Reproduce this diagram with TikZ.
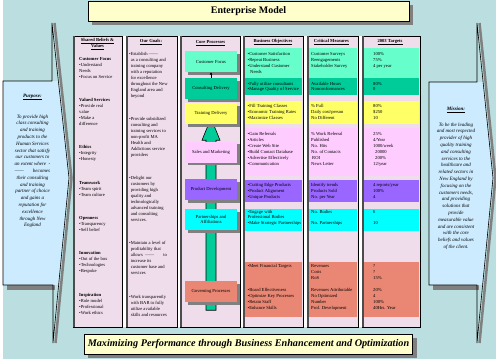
\documentclass[tikz,border=0pt]{standalone}
\usepackage{fontspec}
\setmainfont{Liberation Serif}
\usetikzlibrary{arrows.meta,shadows}
\definecolor{bgteal}{HTML}{BBDFE0}
\definecolor{colpink}{HTML}{F0DDEC}
\definecolor{callblue}{HTML}{CCEBFF}
\definecolor{titleyel}{HTML}{FFFFCC}
\definecolor{cfaqua}{HTML}{66FFCC}
\definecolor{cdgreen}{HTML}{00CC99}
\definecolor{tdyellow}{HTML}{FFFF66}
\definecolor{smpink}{HTML}{FFCCFF}
\definecolor{pdpurple}{HTML}{9966FF}
\definecolor{pacyan}{HTML}{00FFFF}
\definecolor{gpsalmon}{HTML}{EA8774}
\pgfdeclarelayer{back}
\pgfdeclarelayer{middle}
\pgfsetlayers{back,middle,main}
\newcommand{\goal}[1]{•\begin{tabular}[t]{@{}l@{}}#1\end{tabular}}
\tikzset{
  titlebox/.style={draw=black, fill=titleyel, font=\fontsize{10}{11}\selectfont\bfseries,
    drop shadow={shadow xshift=4pt, shadow yshift=-3.5pt, fill=gray, opacity=1}},
  procbox/.style={minimum width=52, minimum height=21, inner sep=1pt, align=center,
    font=\fontsize{4.6}{5.6}\selectfont,
    drop shadow={shadow xshift=2.5pt, shadow yshift=-2.5pt, fill=gray, opacity=1}},
  txt/.style={anchor=north west, inner sep=0pt, align=left, font=\fontsize{4.6}{6}\selectfont},
  head/.style={inner sep=0pt, align=center, font=\fontsize{4.6}{6}\selectfont\bfseries},
  calltxt/.style={anchor=north, inner sep=0pt, align=center, font=\fontsize{5}{6.8}\selectfont\itshape},
  callshade/.style={gray, line width=2.5pt}
}
\begin{document}
\begin{tikzpicture}[x=1pt, y=-1pt]
\useasboundingbox (0,0) rectangle (496,359);
\begin{pgfonlayer}{back}
\fill[bgteal] (3,0) rectangle (496,359);
% purpose callout
\fill[gray] (7,285) rectangle (55,289.5);
\draw[callshade] (54.5,23) -- (71.5,178) -- (55.5,343);
\fill[callblue] (3,81) -- (58.4,81) -- (69,178) -- (58.6,285) -- (3,285) -- cycle;
\draw[black, line width=0.6pt] (3,81) -- (52,81) -- (52,23) -- (69,178) -- (53,343) -- (53,285) -- (3,285) -- cycle;
% mission callout
\fill[gray] (433,285) rectangle (479,289.5);
\draw[callshade] (479.5,23) -- (495.5,178) -- (479.5,343);
\fill[callblue] (429,82) -- (483.1,82) -- (493,178) -- (482.6,285) -- (429,285) -- cycle;
\draw[black, line width=0.6pt] (429,82) -- (477,82) -- (477,23) -- (493,178) -- (477,343) -- (477,285) -- (429,285) -- cycle;
% columns
\fill[white] (73,36) rectangle (420,327);
\foreach \xa/\xb in {73/122,126/177,180/240,243/303,307/358,362/420}
  \fill[colpink] (\xa,36) rectangle (\xb,327);
\foreach \ya/\yb/\bc in {48/78/cfaqua,78/95/cdgreen,101/124/tdyellow,128/176/smpink,180/202/pdpurple,209/231/pacyan,262/317/gpsalmon}
  \foreach \xa/\xb in {243/303,307/358,362/420}
    \fill[\bc] (\xa,\ya) rectangle (\xb-0.6,\yb);
\foreach \xa/\xb in {73/122,126/177,180/240,243/303,307/358,362/420}{
  \draw[black, line width=0.6pt] (\xa,36) rectangle (\xb,327);
  \draw[gray!60!black, line width=1.2pt] (\xa+0.9,36) -- (\xa+0.9,327);
}
\end{pgfonlayer}

\node (title)[titlebox, minimum width=321, minimum height=20] at (248.5,11) {Enterprise Model};
\node (motto)[titlebox, minimum width=321, minimum height=20, font=\fontsize{10.2}{12}\selectfont\bfseries\itshape] at (248.5,344) {Maximizing Performance through Business Enhancement and Optimization};

\node (purpose)[head, font=\fontsize{5}{6}\selectfont\bfseries\itshape] at (32.5,97) {\underline{Purpose:}};
\node (purposetxt)[calltxt] at (32.5,114.5) {To provide high\\class consulting\\and training\\products to the\\Human Services\\sector that satisfy\\our customers to\\an extent where \ -\\------\hspace{9pt}becomes\\their consulting\\and training\\partner of choice\\and gains a\\reputation for\\excellence\\through New\\England};
\node (mission)[head, font=\fontsize{5}{6}\selectfont\bfseries\itshape] at (456,110) {\underline{Mission:}};
\node (missiontxt)[calltxt] at (456,122.5) {To be the leading\\and most respected\\provider of high\\quality training\\and consulting\\services to the\\healthcare and\\related sectors in\\New England by\\focusing on the\\customers needs,\\and providing\\solutions that\\provide\\measurable value\\and are consistent\\with the core\\beliefs and values\\of the client.};

% headings
\node (h1)[head] at (97.5,44) {\underline{Shared Beliefs \&}\\\underline{Values}};
\node (h2)[head] at (151,42) {\underline{Our Goals:}};
\node (h3)[head] at (210.5,43) {\underline{Core Processes}};
\node (h4)[head] at (273,42) {\underline{Business Objectives}};
\node (h5)[head] at (331.5,42) {\underline{Critical Measures}};
\node (h6)[head] at (390,42) {\underline{2003 Targets}};

% shared beliefs
\node (sb1)[txt] at (79,57) {\textbf{Customer Focus}\\•Understand\\Needs\\•Focus on Service};
\node (sb2)[txt] at (79,98) {\textbf{Valued Services}\\•Provide real\\value\\•Make a\\difference};
\node (sb3)[txt] at (79,145) {\textbf{Ethics}\\•Integrity\\•Honesty};
\node (sb4)[txt] at (79,181) {\textbf{Teamwork}\\•Team spirit\\•Team culture};
\node (sb5)[txt] at (79,216) {\textbf{Openness}\\•Transparency\\•Self belief};
\node (sb6)[txt] at (79,251) {\textbf{Innovation}\\•Out of the box\\•Technologies\\•Bespoke};
\node (sb7)[txt] at (79,293) {\textbf{Inspiration}\\•Role model\\•Professional\\•Work ethics};

% goals
\node (g1)[txt] at (129,51) {\goal{Establish ------\\as a consulting and\\training company\\with a reputation\\for excellence\\throughout the New\\England area and\\beyond}};
\node (g2)[txt] at (129,116) {\goal{Provide subsidized\\consulting and\\training services to\\non-profit MA\\Health and\\Addictions service\\providers}};
\node (g3)[txt] at (129,175) {\goal{Delight our\\customers by\\providing high\\quality and\\technologically\\advanced training\\and consulting\\services.}};
\node (g4)[txt] at (129,240) {\goal{Maintain a level of\\profitability that\\allows \ ------\hspace{9pt}to\\increase its\\customer base and\\services}};
\node (g5)[txt] at (129,294) {\goal{Work transparently\\with BAR to fully\\utilize available\\skills and resources}};

% core processes
\node (custfocus)[procbox, fill=cfaqua] at (211,61.5) {Customer Focus};
\node (consult)[procbox, fill=cdgreen] at (211,88.5) {Consulting Delivery};
\node (training)[procbox, fill=tdyellow] at (211,113.5) {Training Delivery};
\node (sales)[procbox, fill=smpink] at (211,152) {Sales and Marketing};
\node (product)[procbox, fill=pdpurple] at (211,189.5) {Product Development};
\node (partner)[procbox, fill=pacyan] at (211,219.5) {Partnerships and\\Affiliations};
\node (govern)[procbox, fill=gpsalmon] at (211,291.5) {Governing Processes};
\draw[-{Latex[length=2.5pt,width=3pt]}, line width=0.8pt] (consult) -- (custfocus);
\begin{pgfonlayer}{middle}
\filldraw[fill=cdgreen, draw=black, line width=0.6pt] ([xshift=-5pt,yshift=-8pt]govern.south) -- ([xshift=-5pt,yshift=-16pt]training.south) -- ([xshift=-9pt,yshift=-16pt]training.south) -- ([yshift=6pt]training.south) -- ([xshift=9pt,yshift=-16pt]training.south) -- ([xshift=5pt,yshift=-16pt]training.south) -- ([xshift=5pt,yshift=-8pt]govern.south) -- cycle;
\end{pgfonlayer}

% business objectives
\node (bo1)[txt] at (247.5,52) {•Customer Satisfaction\\•Repeat Business\\•Understand Customer\\\hspace*{2.5pt}Needs};
\node (bo2)[txt, font=\fontsize{4.6}{5.5}\selectfont] at (247.5,82) {•Fully utilize consultants\\•Manage Quality of Service};
\node (bo3)[txt] at (247.5,104) {•Fill Training Classes\\•Economic Training Rates\\•Maximize Classes};
\node (bo4)[txt] at (247.5,132) {•Gain Referrals\\•Articles\\•Create Web Site\\•Build Contact Database\\•Advertise Effectively\\•Communication};
\node (bo5)[txt] at (247.5,183) {•Cutting Edge Products\\•Product Alignment\\•Unique Products};
\node (bo6)[txt, font=\fontsize{4.6}{5.6}\selectfont] at (247.5,210) {•Engage with\\Professional Bodies\\•Make Strategic Partnerships};
\node (bo7)[txt] at (247.5,264) {•Meet Financial Targets};
\node (bo8)[txt] at (247.5,288) {•Board Effectiveness\\•Optimize Key Processes\\•Retain Staff\\•Enhance Skills};

% critical measures
\node (cm1)[txt] at (311,52) {Customer Surveys\\Reengagements\\Stakeholder Survey};
\node (cm2)[txt, font=\fontsize{4.6}{5.5}\selectfont] at (311,82) {Available Hours\\Nonconformances};
\node (cm3)[txt] at (311,104) {\% Full\\Daily cost/person\\No Different};
\node (cm4)[txt] at (311,132) {\% Work Referral\\Published\\No. Hits\\No. of Contacts\\\hspace*{1pt}ROI\\News Letter};
\node (cm5)[txt] at (311,183) {Identify trends\\Products Sold\\No. per Year};
\node (cm6)[txt, font=\fontsize{4.6}{11.2}\selectfont] at (311,210) {No. Bodies\\No. Partnerships};
\node (cm7)[txt] at (311,264) {Revenues\\Costs\\RoS};
\node (cm8)[txt] at (311,288) {Revenues Attributable\\No Optimized\\Number\\Prof. Development};

% targets
\node (tg1)[txt] at (373,52) {100\%\\75\%\\4 per year};
\node (tg2)[txt, font=\fontsize{4.6}{5.5}\selectfont] at (373,82) {80\%\\0};
\node (tg3)[txt] at (373,104) {80\%\\\$250\\10};
\node (tg4)[txt] at (373,132) {25\%\\4/Year\\1000/week\\\hspace*{2pt}20000\\\hspace*{2pt}200\%\\12/year};
\node (tg5)[txt] at (373,183) {4 reports/year\\100\%\\4};
\node (tg6)[txt, font=\fontsize{4.6}{11.2}\selectfont] at (373,210) {6\\10};
\node (tg7)[txt] at (373,264) {?\\?\\15\%};
\node (tg8)[txt] at (373,288) {20\%\\4\\100\%\\40Hrs. Year};
\end{tikzpicture}
\end{document}
